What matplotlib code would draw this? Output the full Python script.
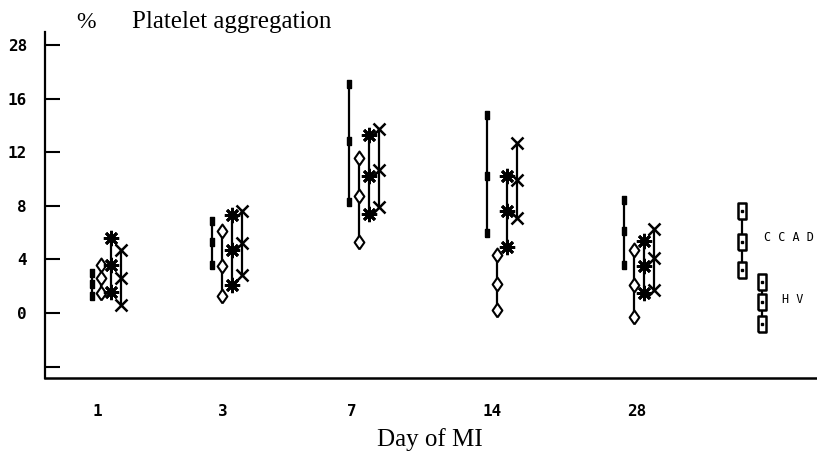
import matplotlib
matplotlib.use("Agg")
import matplotlib.pyplot as plt
import numpy as np

# ---- data ----
days = ["1", "3", "7", "14", "28"]
label_pos = [97, 223, 352, 492, 637]          # x positions of day labels
group_pos = [91.5, 212, 349, 487, 624]        # x position of first series in each group
series_offset = [0, 9.5, 19.5, 29.5]

# each series: (low, mean, high) per day
s_filled = [(1.3, 2.2, 3.0), (3.6, 5.3, 6.9), (8.3, 12.8, 17.1), (6.0, 10.2, 14.8), (3.6, 6.1, 8.4)]
s_diamond = [(1.5, 2.6, 3.6), (1.3, 3.5, 6.1), (5.3, 8.7, 11.6), (0.2, 2.2, 4.3), (-0.3, 2.1, 4.7)]
s_star = [(1.6, 3.6, 5.6), (2.1, 4.7, 7.3), (7.4, 10.2, 13.3), (4.9, 7.6, 10.2), (1.5, 3.5, 5.4)]
s_x = [(0.6, 2.6, 4.7), (2.8, 5.2, 7.6), (7.9, 10.7, 13.7), (7.1, 9.9, 12.7), (1.7, 4.1, 6.3)]

legend_ccad = (3.2, 5.3, 7.6)
legend_hv = (-0.8, 0.8, 2.3)

yticks = [20, 16, 12, 8, 4, 0, -4]
ytick_labels = ["28", "16", "12", "8", "4", "0", ""]

fig = plt.figure(figsize=(8.17, 4.57), dpi=100)
ax = fig.add_axes([45/817, (457-378)/457, (817-45)/817, (378-32)/457])
ax.set_xlim(45, 817)
ax.set_ylim(-4.85, 20.97)

rect_marker = [(-0.55, -1), (0.55, -1), (0.55, 1), (-0.55, 1), (-0.55, -1)]
diam_marker = [(0, -1), (0.7, 0), (0, 1), (-0.7, 0), (0, -1)]

styles = [
    dict(marker=rect_marker, ms=6, mfc="black", mec="black", mew=1.0),
    dict(marker=diam_marker, ms=10, mfc="white", mec="black", mew=1.5),
    dict(marker=(8, 2, 0), ms=11, mfc="black", mec="black", mew=2.0),
    dict(marker="x", ms=8, mfc="black", mec="black", mew=1.8),
]

for si, series in enumerate([s_filled, s_diamond, s_star, s_x]):
    for gi, vals in enumerate(series):
        x = group_pos[gi] + series_offset[si]
        ax.plot([x, x, x], list(vals), color="black", lw=1.6, zorder=2,
                **styles[si])

# legend groups
leg_style = dict(marker=rect_marker, ms=11, mfc="white", mec="black", mew=1.8)
ax.plot([742]*3, list(legend_ccad), color="black", lw=1.6, **leg_style)
ax.plot([762]*3, list(legend_hv), color="black", lw=1.6, **leg_style)
for x, v in [(742, legend_ccad), (762, legend_hv)]:
    ax.plot([x]*3, list(v), ls="none", marker="s", ms=2, color="black")
ax.text(764, legend_ccad[1] + 0.3, "C C A D", family="DejaVu Sans Mono", fontsize=8.5,
        va="center", ha="left")
ax.text(782, legend_hv[1] + 0.2, "H V", family="DejaVu Sans Mono", fontsize=8.5,
        va="center", ha="left")

# axes styling
for side in ["top", "right"]:
    ax.spines[side].set_visible(False)
ax.spines["left"].set_linewidth(1.6)
ax.spines["bottom"].set_linewidth(1.8)

ax.set_yticks(yticks)
ax.set_yticklabels(ytick_labels, family="DejaVu Sans Mono", fontweight="bold", fontsize=11.5)
ax.tick_params(axis="y", direction="in", length=11, width=1.5, pad=13)

ax.set_xticks(label_pos)
ax.set_xticklabels(days, family="DejaVu Sans Mono", fontweight="bold", fontsize=11.5)
ax.tick_params(axis="x", length=0, pad=19)

fig.text(76/817, 1 - 22/457, "%", family="Liberation Serif", fontsize=17, va="center", ha="left")
fig.text(132/817, 1 - 22/457, "Platelet aggregation", family="Liberation Serif", fontsize=18,
         va="center", ha="left")
fig.text(430/817, 1 - 440/457, "Day of MI", family="Liberation Serif", fontsize=18,
         va="center", ha="center")

fig.savefig("out.png", dpi=100)
